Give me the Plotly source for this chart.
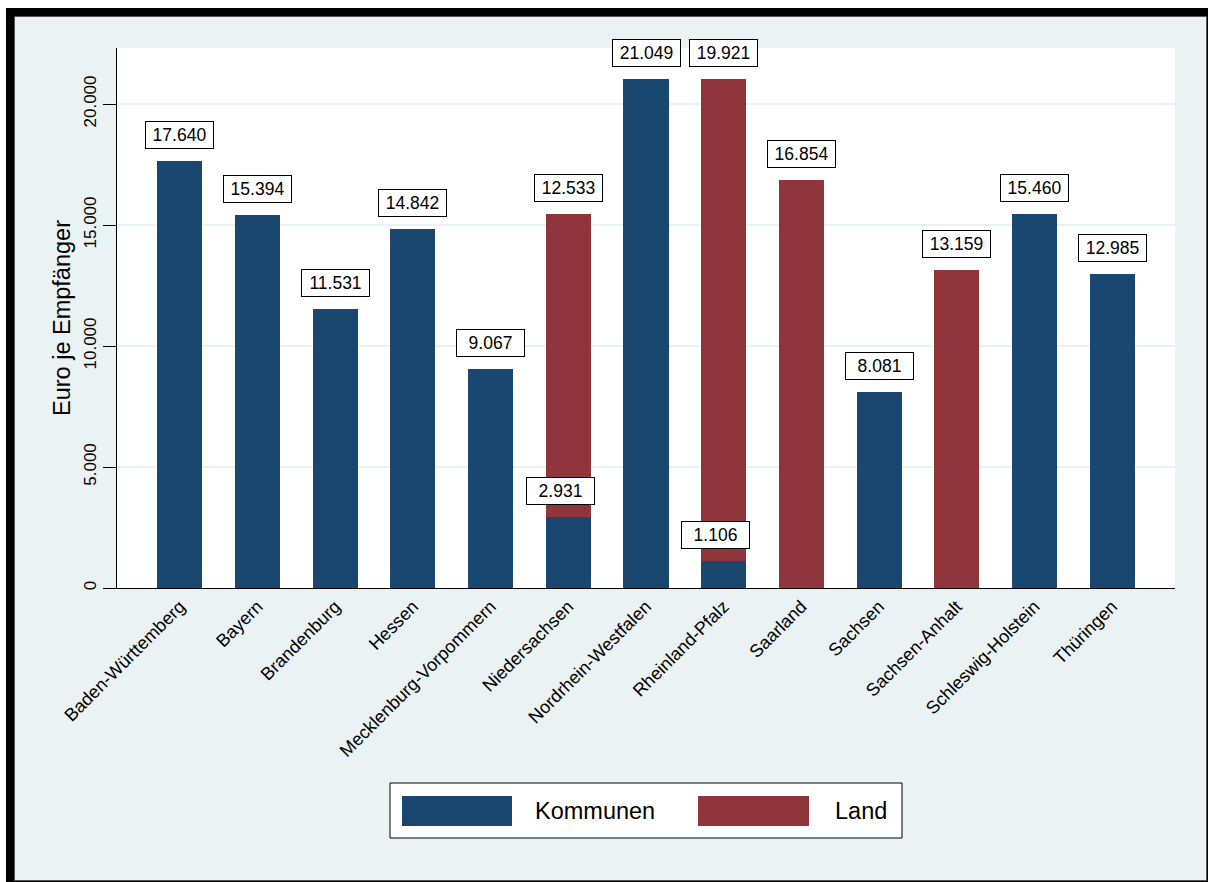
import plotly.graph_objects as go

# ---------------- data ----------------
categories = ["Baden-Württemberg", "Bayern", "Brandenburg", "Hessen",
              "Mecklenburg-Vorpommern", "Niedersachsen", "Nordrhein-Westfalen",
              "Rheinland-Pfalz", "Saarland", "Sachsen", "Sachsen-Anhalt",
              "Schleswig-Holstein", "Thüringen"]
kommunen = [17640, 15394, 11531, 14842, 9067, 2931, 21049, 1106, None, 8081, None, 15460, 12985]
land = [None, None, None, None, None, 12533, None, 19921, 16854, None, 13159, None, None]
series_names = ["Kommunen", "Land"]
y_ticks = [0, 5000, 10000, 15000, 20000]
y_title = "Euro je Empfänger"

# ---------------- style ----------------
W, H = 1208, 882
ML, MR, MT, MB = 117, 33, 48, 294
PW, PH = W - ML - MR, H - MT - MB
colors = ["#1A476F", "#90353B"]
BG = "#EAF2F3"
FONT = "Arial, 'Liberation Sans', sans-serif"


def de(v):
    return f"{v:,}".replace(",", ".")


def fx(p):
    return (p - ML) / PW


def fy(p):
    return (H - MB - p) / PH


fig = go.Figure()
for name, vals, col in zip(series_names, [kommunen, land], colors):
    fig.add_trace(go.Bar(x=categories, y=vals, name=name, marker_color=col,
                         marker_line_width=0, width=0.58, showlegend=False))

annotations = []
for i, cat in enumerate(categories):
    k = kommunen[i] or 0
    l = land[i] or 0
    items = []
    if kommunen[i]:
        items.append((k, kommunen[i], -8 if land[i] else 0))
    if land[i]:
        items.append((k + l, land[i], 0))
    for ypos, val, xs in items:
        annotations.append(dict(
            x=cat, y=ypos, xref="x", yref="y", text=de(val), showarrow=False,
            yanchor="bottom", yshift=12, xshift=xs,
            font=dict(family=FONT, size=17.5, color="black"),
            bgcolor="white", bordercolor="black", borderwidth=1, borderpad=3,
            width=61, height=20))

shapes = [
    # outer frame
    dict(type="rect", xref="paper", yref="paper", x0=fx(6), x1=fx(1208), y0=fy(8), y1=fy(882),
         fillcolor="black", line_width=0, layer="below"),
    dict(type="rect", xref="paper", yref="paper", x0=fx(14.5), x1=fx(1206.5), y0=fy(16.5), y1=fy(880.5),
         fillcolor=BG, line=dict(color="#555555", width=1), layer="below"),
    dict(type="rect", xref="paper", yref="paper", x0=0, x1=1, y0=0, y1=1,
         fillcolor="white", line_width=0, layer="below"),
    # legend box
    dict(type="rect", xref="paper", yref="paper", x0=fx(390), x1=fx(902), y0=fy(783), y1=fy(838),
         fillcolor="white", line=dict(color="black", width=1), layer="above"),
]
legend_items = [(402, 512, 533), (698, 809, 833)]
for (sx0, sx1, tx), name, col in zip(legend_items, series_names, colors):
    shapes.append(dict(type="rect", xref="paper", yref="paper", x0=fx(sx0), x1=fx(sx1),
                       y0=fy(796), y1=fy(826), fillcolor=col, line_width=0, layer="above"))
    annotations.append(dict(x=fx(tx), y=fy(811), xref="paper", yref="paper", text=name,
                            showarrow=False, xanchor="left", yanchor="middle",
                            font=dict(family=FONT, size=23.5, color="black")))

fig.update_layout(
    width=W, height=H, margin=dict(l=ML, r=MR, t=MT, b=MB, autoexpand=False),
    paper_bgcolor="white", plot_bgcolor="white",
    barmode="stack", bargap=0.42,
    font=dict(family=FONT, color="black"),
    shapes=shapes, annotations=annotations,
    xaxis=dict(type="category", range=[-0.81, 12.81], tickangle=-45,
               tickfont=dict(size=18, family=FONT, color="black"),
               showline=True, linecolor="black", linewidth=1, ticks="",
               showgrid=False, automargin=False),
    yaxis=dict(range=[0, 22314], tickvals=y_ticks, ticktext=[de(v) for v in y_ticks],
               tickangle=-90, tickfont=dict(size=17, family=FONT, color="black"),
               showline=True, linecolor="black", linewidth=1,
               ticks="outside", ticklen=13, tickcolor="black", tickwidth=1,
               showgrid=True, gridcolor=BG, gridwidth=2, zeroline=False,
               title=dict(text=y_title, font=dict(size=23.5, family=FONT, color="black"),
                          standoff=3),
               automargin=False),
)

fig.write_html("out.html")
